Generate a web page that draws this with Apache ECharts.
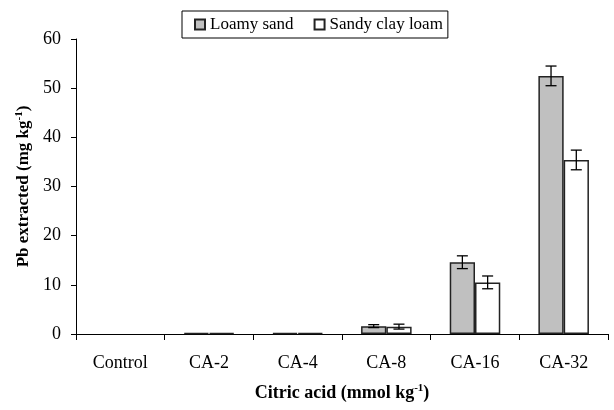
<!DOCTYPE html>
<html><head><meta charset="utf-8">
<script src="https://cdn.jsdelivr.net/npm/echarts@6/dist/echarts.min.js"></script>
<style>html,body{margin:0;padding:0;background:#fff}#c{width:614px;height:410px}</style>
</head><body><div id="c"></div>
<script>
const categories = ['Control','CA-2','CA-4','CA-8','CA-16','CA-32'];
const loamySand = [0, 0.2, 0.2, 1.6, 14.6, 52.5];
const loamySandErr = [0, 0, 0, 0.3, 1.3, 2.0];
const sandyClayLoam = [0, 0.2, 0.2, 1.5, 10.5, 35.4];
const sandyClayLoamErr = [0, 0, 0, 0.5, 1.3, 2.0];
const yTicks = [0, 10, 20, 30, 40, 50, 60];

const FONT = '"Liberation Serif", "Times New Roman", serif';
const CAT_GAP = 0.43;

function barData(vals) {
  return vals.map(v => v === 0 ? { value: v, itemStyle: { borderWidth: 0 } } : v);
}

function errSeries(vals, errs, side) {
  return {
    type: 'custom',
    data: vals.map((v, i) => [i, v, errs[i]]),
    z: 10,
    silent: true,
    renderItem: function (params, api) {
      const i = api.value(0), v = api.value(1), e = api.value(2);
      if (!e) return null;
      const band = api.size([1, 0])[0];
      const bw = band * (1 - CAT_GAP) / 2;
      const base = api.coord([i, v]);
      const x = base[0] + side * bw / 2;
      const top = api.coord([i, v + e])[1];
      const bot = api.coord([i, v - e])[1];
      const cap = 5.5;
      const style = { stroke: '#000', lineWidth: 1.3 };
      return { type: 'group', children: [
        { type: 'line', shape: { x1: x, y1: top, x2: x, y2: bot }, style },
        { type: 'line', shape: { x1: x - cap, y1: top, x2: x + cap, y2: top }, style },
        { type: 'line', shape: { x1: x - cap, y1: bot, x2: x + cap, y2: bot }, style }
      ]};
    }
  };
}

const chart = echarts.init(document.getElementById('c'));
chart.setOption({
  animation: false,
  textStyle: { fontFamily: FONT },
  legend: {
    data: ['Loamy sand', 'Sandy clay loam'],
    left: 182, top: 11,
    borderColor: '#000', borderWidth: 1,
    padding: [5, 5, 5, 12],
    itemWidth: 10, itemHeight: 10, itemGap: 20,
    icon: 'rect',
    textStyle: { fontFamily: FONT, fontSize: 17, color: '#000' }
  },
  grid: { left: 76, right: 6, top: 39, bottom: 76 },
  xAxis: {
    type: 'category',
    data: categories,
    axisLine: { lineStyle: { color: '#000', width: 1 } },
    axisTick: { show: true, alignWithLabel: false, length: 6, lineStyle: { color: '#000' } },
    axisLabel: { color: '#000', fontSize: 18, fontFamily: FONT, margin: 20 },
    name: '{a|Citric acid (mmol kg}{s|-1}{a|)}',
    nameLocation: 'middle', nameGap: 49,
    nameTextStyle: {
      rich: {
        a: { fontFamily: FONT, fontSize: 18, fontWeight: 'bold', color: '#000' },
        s: { fontFamily: FONT, fontSize: 11, fontWeight: 'bold', color: '#000', verticalAlign: 'top', padding: [0, 0, 9, 0] }
      }
    }
  },
  yAxis: {
    type: 'value',
    min: 0, max: 60, interval: 10,
    axisLine: { show: true, lineStyle: { color: '#000', width: 1 } },
    axisTick: { show: true, length: 5, lineStyle: { color: '#000' } },
    splitLine: { show: false },
    axisLabel: { color: '#000', fontSize: 18, fontFamily: FONT, margin: 15,
      formatter: v => yTicks.includes(v) ? String(v) : '' },
    name: '{a|Pb extracted (mg kg}{s|-1}{a|)}',
    nameLocation: 'middle', nameGap: 42, nameRotate: 90,
    nameTextStyle: {
      rich: {
        a: { fontFamily: FONT, fontSize: 17, fontWeight: 'bold', color: '#000' },
        s: { fontFamily: FONT, fontSize: 11, fontWeight: 'bold', color: '#000', verticalAlign: 'top', padding: [0, 0, 9, 0] }
      }
    }
  },
  series: [
    { name: 'Loamy sand', type: 'bar', data: barData(loamySand), barGap: '0%', barCategoryGap: (CAT_GAP * 100) + '%',
      itemStyle: { color: '#c0c0c0', borderColor: '#222', borderWidth: 1.5 } },
    { name: 'Sandy clay loam', type: 'bar', data: barData(sandyClayLoam), barGap: '0%', barCategoryGap: (CAT_GAP * 100) + '%',
      itemStyle: { color: '#ffffff', borderColor: '#222', borderWidth: 1.5 } },
    errSeries(loamySand, loamySandErr, -1),
    errSeries(sandyClayLoam, sandyClayLoamErr, 1)
  ]
});
</script></body></html>
